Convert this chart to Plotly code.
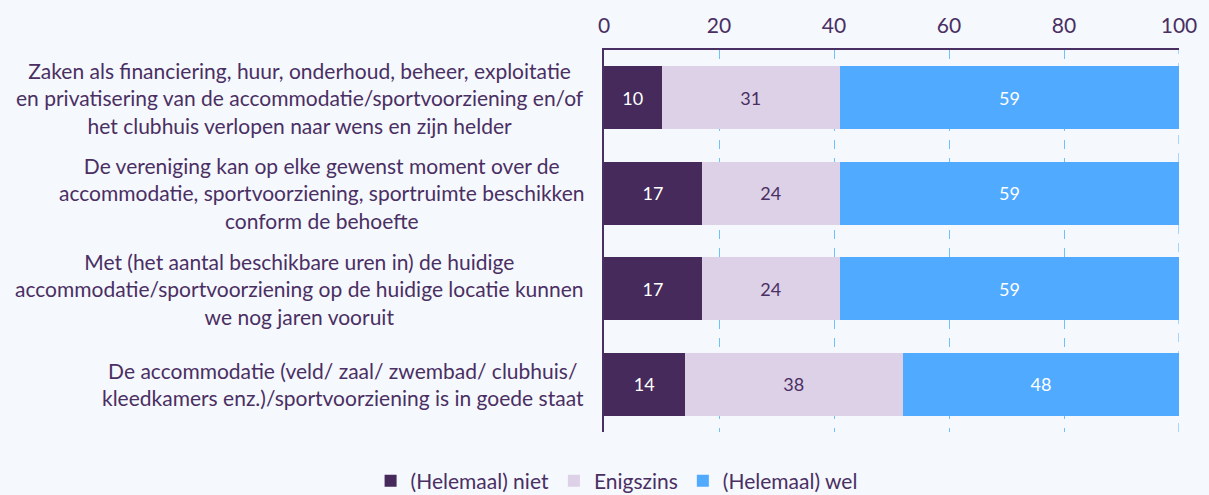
import plotly.graph_objects as go

categories = [
    "Zaken als financiering, huur, onderhoud, beheer, exploitatie<br>en privatisering van de accommodatie/sportvoorziening en/of<br>het clubhuis verlopen naar wens en zijn helder",
    "De vereniging kan op elke gewenst moment over de<br>accommodatie, sportvoorziening, sportruimte beschikken<br>conform de behoefte",
    "Met (het aantal beschikbare uren in) de huidige<br>accommodatie/sportvoorziening op de huidige locatie kunnen<br>we nog jaren vooruit",
    "De accommodatie (veld/ zaal/ zwembad/ clubhuis/<br>kleedkamers enz.)/sportvoorziening is in goede staat",
]
niet = [10, 17, 17, 14]
enigszins = [31, 24, 24, 38]
wel = [59, 59, 59, 48]
series_names = ["(Helemaal) niet", "Enigszins", "(Helemaal) wel"]
tick_vals = [0, 20, 40, 60, 80, 100]

ids = list(range(len(categories)))
colors = ["#452A5B", "#DCD1E7", "#50AAFF"]
text_colors = ["#FFFFFF", "#4A2F63", "#FFFFFF"]
txt = "#4A2F63"
font = "Lato"

fig = go.Figure()
for name, vals, c, tc in zip(series_names, [niet, enigszins, wel], colors, text_colors):
    fig.add_trace(go.Bar(
        y=ids, x=vals, name=name, orientation="h",
        marker=dict(color=c, line=dict(width=0)),
        text=vals, texttemplate="%{text}", textposition="inside",
        insidetextanchor="middle",
        textfont=dict(color=tc, size=18, family=font),
        width=0.66,
        hoverinfo="x+name",
    ))

for i, cat in enumerate(categories):
    fig.add_annotation(
        x=-0.032, xref="paper", y=i, yref="y", text=cat, showarrow=False,
        xanchor="right", yanchor="middle", align="center",
        font=dict(size=21, family=font, color=txt),
    )

# gridline at the last tick (plotly hides grid at the plot edge)
fig.add_vline(x=tick_vals[-1], line=dict(color="#6FC0FF", width=1.2, dash="dash"),
              layer="below")

fig.update_layout(
    barmode="stack",
    width=1209, height=495,
    margin=dict(l=604, r=24, t=50, b=63),
    paper_bgcolor="#F5F8FD", plot_bgcolor="#F5F8FD",
    font=dict(family=font, color=txt, size=21),
    legend=dict(orientation="h", xref="container", yref="container",
                x=0.51, xanchor="center", y=0.028, yanchor="middle",
                font=dict(size=21, family=font, color=txt),
                itemsizing="constant", itemwidth=30, traceorder="normal"),
    xaxis=dict(side="top", range=[0, 100], tickvals=tick_vals,
               showgrid=True, gridcolor="#6FC0FF", griddash="dash", gridwidth=1.2,
               showline=True, linecolor="#4A2F63", linewidth=1.5,
               zeroline=False, ticks="", ticklabelstandoff=7,
               tickfont=dict(size=21, family=font, color=txt)),
    yaxis=dict(range=[3.5, -0.5], tickvals=ids, showticklabels=False,
               showgrid=False, zeroline=False,
               showline=True, linecolor="#4A2F63", linewidth=1.5, ticks=""),
)

fig.write_html(
    "out.html",
    config={"displayModeBar": False},
    post_script="document.body.style.margin='0';document.body.style.overflow='hidden';",
)
